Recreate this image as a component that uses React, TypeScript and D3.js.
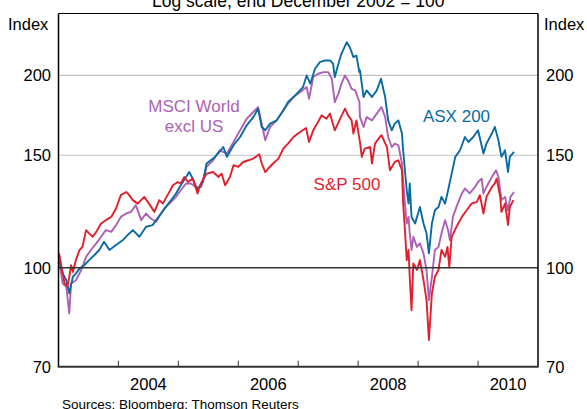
import React from "react";
import * as d3 from "d3";

// ---- data (decimal year, index value; end Dec 2002 = 100) ----
const asx200: [number, number][] = [
  [2003.01, 102.8], [2003.07, 98.0], [2003.13, 95.6], [2003.18, 91.2], [2003.24, 96.8], [2003.29, 98.0],
  [2003.35, 99.7], [2003.43, 100.9], [2003.51, 102.8], [2003.6, 104.7], [2003.68, 106.6], [2003.76, 109.8],
  [2003.85, 106.6], [2003.96, 108.5], [2004.07, 110.4], [2004.15, 112.4], [2004.24, 114.5], [2004.35, 111.8],
  [2004.46, 115.9], [2004.57, 116.6], [2004.63, 118.7], [2004.71, 121.6], [2004.79, 124.5], [2004.88, 127.6],
  [2004.96, 130.7], [2005.04, 134.6], [2005.13, 138.7], [2005.18, 141.2], [2005.24, 137.9], [2005.32, 132.2],
  [2005.41, 136.2], [2005.47, 145.6], [2005.61, 149.1], [2005.75, 154.5], [2005.81, 149.1], [2005.92, 155.5],
  [2006.03, 160.2], [2006.14, 167.1], [2006.25, 172.1], [2006.33, 177.4], [2006.39, 166.1], [2006.45, 164.1],
  [2006.53, 168.1], [2006.64, 170.1], [2006.75, 176.3], [2006.83, 181.7], [2006.92, 185.0], [2007.0, 188.3],
  [2007.08, 191.8], [2007.14, 200.0], [2007.2, 194.1], [2007.28, 204.9], [2007.36, 209.8], [2007.45, 211.1],
  [2007.53, 211.1], [2007.58, 208.6], [2007.61, 198.8], [2007.67, 208.6], [2007.72, 216.2], [2007.81, 225.5],
  [2007.86, 221.4], [2007.92, 213.6], [2007.97, 214.9], [2008.02, 202.4], [2008.03, 203.6], [2008.09, 185.0],
  [2008.14, 189.5], [2008.23, 185.0], [2008.31, 189.5], [2008.38, 197.6], [2008.45, 185.0], [2008.5, 170.1],
  [2008.56, 164.1], [2008.61, 168.1], [2008.67, 170.1], [2008.73, 162.2], [2008.75, 152.7], [2008.78, 142.1],
  [2008.81, 132.2], [2008.84, 126.0], [2008.86, 135.5], [2008.89, 120.1], [2008.95, 117.3], [2009.03, 124.5],
  [2009.09, 117.3], [2009.14, 113.2], [2009.18, 105.3], [2009.23, 117.3], [2009.28, 123.0], [2009.34, 124.5],
  [2009.39, 129.1], [2009.45, 126.0], [2009.5, 132.2], [2009.56, 140.4], [2009.62, 149.1], [2009.7, 152.7],
  [2009.78, 160.2], [2009.84, 157.3], [2009.92, 160.2], [2010.0, 164.1], [2010.09, 150.9], [2010.14, 156.4],
  [2010.23, 162.2], [2010.28, 166.1], [2010.34, 158.3], [2010.39, 149.1], [2010.45, 152.7], [2010.5, 141.2],
  [2010.53, 149.1], [2010.6, 151.8],
];

const msciWorldExUS: [number, number][] = [
  [2003.01, 102.8], [2003.07, 94.5], [2003.13, 93.4], [2003.18, 84.8], [2003.21, 94.5], [2003.29, 95.6],
  [2003.38, 99.2], [2003.46, 104.0], [2003.54, 106.6], [2003.63, 109.2], [2003.71, 111.8], [2003.79, 114.5],
  [2003.88, 113.8], [2003.96, 116.6], [2004.04, 120.1], [2004.13, 121.6], [2004.21, 122.3], [2004.29, 125.3],
  [2004.38, 118.7], [2004.46, 121.6], [2004.54, 119.4], [2004.63, 118.0], [2004.71, 121.6], [2004.79, 124.5],
  [2004.88, 126.8], [2004.96, 129.1], [2005.04, 132.2], [2005.13, 135.5], [2005.21, 135.5], [2005.29, 133.8],
  [2005.38, 133.8], [2005.47, 143.8], [2005.58, 147.3], [2005.69, 152.7], [2005.81, 150.9], [2005.92, 157.3],
  [2006.03, 164.1], [2006.14, 171.1], [2006.25, 175.3], [2006.33, 178.4], [2006.39, 168.1], [2006.45, 158.3],
  [2006.53, 166.1], [2006.64, 170.1], [2006.75, 176.3], [2006.83, 180.6], [2006.92, 185.0], [2007.03, 188.3],
  [2007.14, 191.8], [2007.18, 183.9], [2007.25, 198.8], [2007.33, 201.2], [2007.42, 202.4], [2007.5, 202.4],
  [2007.56, 197.6], [2007.61, 181.7], [2007.67, 187.3], [2007.72, 194.1], [2007.78, 200.0], [2007.83, 196.4],
  [2007.89, 190.6], [2007.95, 189.5], [2008.02, 181.7], [2008.03, 172.1], [2008.09, 166.1], [2008.14, 172.1],
  [2008.23, 170.1], [2008.31, 174.3], [2008.39, 178.4], [2008.45, 172.1], [2008.5, 160.2], [2008.56, 154.5],
  [2008.61, 156.4], [2008.67, 155.5], [2008.73, 145.6], [2008.75, 137.1], [2008.78, 126.0], [2008.81, 117.3],
  [2008.84, 120.1], [2008.86, 113.2], [2008.89, 106.6], [2008.92, 111.8], [2008.98, 107.8], [2009.03, 109.2],
  [2009.09, 105.3], [2009.14, 99.2], [2009.18, 89.0], [2009.23, 96.8], [2009.28, 106.6], [2009.34, 107.8],
  [2009.39, 113.2], [2009.45, 118.7], [2009.5, 114.5], [2009.53, 110.4], [2009.58, 120.1], [2009.64, 124.5],
  [2009.73, 130.7], [2009.78, 133.1], [2009.86, 130.7], [2009.95, 133.8], [2010.0, 136.2], [2010.06, 137.9],
  [2010.09, 130.7], [2010.14, 133.8], [2010.23, 138.7], [2010.3, 142.1], [2010.34, 138.7], [2010.39, 127.6],
  [2010.45, 129.1], [2010.5, 123.0], [2010.54, 129.1], [2010.6, 131.4],
];

const sp500: [number, number][] = [
  [2003.01, 105.3], [2003.04, 101.7], [2003.1, 94.6], [2003.15, 93.4], [2003.18, 96.8], [2003.21, 100.9],
  [2003.24, 98.5], [2003.29, 102.8], [2003.35, 106.6], [2003.4, 107.8], [2003.46, 114.5], [2003.51, 113.2],
  [2003.57, 111.8], [2003.63, 113.8], [2003.71, 117.3], [2003.79, 118.7], [2003.88, 120.1], [2003.96, 123.8],
  [2004.04, 129.9], [2004.13, 131.4], [2004.18, 129.9], [2004.24, 127.6], [2004.32, 126.0], [2004.43, 129.1],
  [2004.51, 126.0], [2004.6, 122.3], [2004.68, 127.6], [2004.74, 126.0], [2004.82, 129.9], [2004.91, 134.6],
  [2004.99, 136.2], [2005.04, 135.5], [2005.1, 138.7], [2005.16, 136.2], [2005.24, 137.9], [2005.32, 130.7],
  [2005.36, 134.6], [2005.47, 140.4], [2005.58, 141.2], [2005.67, 138.7], [2005.72, 140.4], [2005.78, 134.6],
  [2005.86, 138.7], [2005.92, 144.7], [2006.0, 143.8], [2006.08, 146.4], [2006.17, 147.3], [2006.25, 148.2],
  [2006.35, 150.5], [2006.39, 145.6], [2006.45, 141.2], [2006.5, 143.0], [2006.58, 145.6], [2006.67, 148.2],
  [2006.75, 153.6], [2006.83, 156.4], [2006.92, 160.2], [2007.03, 163.1], [2007.13, 165.5], [2007.18, 157.3],
  [2007.25, 164.1], [2007.33, 169.1], [2007.39, 173.2], [2007.47, 171.1], [2007.53, 174.3], [2007.56, 170.1],
  [2007.61, 164.1], [2007.7, 171.1], [2007.78, 177.4], [2007.83, 173.2], [2007.89, 170.1], [2007.92, 162.2],
  [2007.97, 170.1], [2008.02, 159.3], [2008.03, 157.3], [2008.06, 149.1], [2008.11, 153.6], [2008.2, 154.5],
  [2008.23, 145.6], [2008.28, 156.4], [2008.36, 160.2], [2008.39, 161.2], [2008.48, 154.5], [2008.53, 142.1],
  [2008.61, 146.4], [2008.67, 147.3], [2008.73, 142.1], [2008.75, 126.0], [2008.78, 114.5], [2008.81, 102.8],
  [2008.84, 106.6], [2008.86, 96.8], [2008.89, 85.8], [2008.92, 101.6], [2008.98, 99.2], [2009.03, 102.8],
  [2009.09, 95.6], [2009.14, 89.0], [2009.18, 77.1], [2009.23, 91.2], [2009.28, 96.8], [2009.34, 99.2],
  [2009.39, 106.6], [2009.45, 104.0], [2009.49, 107.8], [2009.52, 100.1], [2009.56, 111.8], [2009.64, 115.9],
  [2009.73, 120.1], [2009.81, 123.0], [2009.89, 126.0], [2009.98, 126.8], [2010.03, 129.9], [2010.09, 121.6],
  [2010.14, 129.1], [2010.23, 133.8], [2010.28, 135.5], [2010.31, 137.9], [2010.37, 129.1], [2010.39, 122.3],
  [2010.45, 126.0], [2010.5, 116.6], [2010.53, 124.5], [2010.59, 127.6],
];

const yTicks = [70, 100, 150, 200];
const gridLight = [150, 200];
const xYearTicks = [2004, 2005, 2006, 2007, 2008, 2009, 2010];
const xLabels = [2004, 2006, 2008, 2010];

const title = "Log scale, end December 2002 = 100";
const sourceNote = "Sources: Bloomberg; Thomson Reuters";

const COLORS = { asx: "#0a6aa3", msci: "#ac62b4", sp: "#e21f2d" };

const W = 587;
const H = 409;
const M = { left: 58.5, right: 538, top: 13.5, bottom: 366.7 };

export default function App() {
  const x = d3.scaleLinear().domain([2003, 2011]).range([M.left, M.right]);
  const y = d3.scaleLog().domain([70, 250]).range([M.bottom, M.top]);
  const line = d3
    .line<[number, number]>()
    .x((d) => x(d[0]))
    .y((d) => y(d[1]));

  const font = "'Liberation Sans', Arial, Helvetica, sans-serif";
  const fs = 16.5;

  return (
    <svg
      width={W}
      height={H}
      style={{ position: "absolute", left: 0, top: 0, background: "#fff" }}
      fontFamily={font}
    >
      <rect x={0} y={0} width={W} height={H} fill="#fff" />
      {/* title (cropped at top) */}
      <text x={(M.left + M.right) / 2} y={6.5} textAnchor="middle" fontSize={17.5} fill="#000">
        {title}
      </text>
      <text x={8} y={30} fontSize={fs} fill="#000">Index</text>
      <text x={544} y={30} fontSize={fs} fill="#000">Index</text>

      {/* gridlines */}
      {gridLight.map((v) => (
        <line key={v} x1={M.left} x2={M.right} y1={y(v)} y2={y(v)} stroke="#c4c4c4" strokeWidth={1.2} />
      ))}

      {/* series */}
      <path d={line(msciWorldExUS) || ""} fill="none" stroke={COLORS.msci} strokeWidth={1.9} strokeLinejoin="round" />
      <path d={line(asx200) || ""} fill="none" stroke={COLORS.asx} strokeWidth={1.9} strokeLinejoin="round" />
      <path d={line(sp500) || ""} fill="none" stroke={COLORS.sp} strokeWidth={1.9} strokeLinejoin="round" />

      {/* 100 line */}
      <line x1={M.left} x2={M.right} y1={y(100)} y2={y(100)} stroke="#333" strokeWidth={1.4} />

      {/* frame */}
      <line x1={M.left} x2={M.right} y1={M.top} y2={M.top} stroke="#000" strokeWidth={1} />
      <line x1={M.left} x2={M.left} y1={M.top} y2={M.bottom} stroke="#000" strokeWidth={1.5} />
      <line x1={M.right} x2={M.right} y1={M.top} y2={M.bottom} stroke="#000" strokeWidth={1.5} />
      {xYearTicks.map((t) => (
        <line key={t} x1={x(t)} x2={x(t)} y1={M.bottom} y2={M.bottom - 6} stroke="#555" strokeWidth={1.2} />
      ))}
      <line x1={M.left - 0.75} x2={M.right + 0.75} y1={M.bottom} y2={M.bottom} stroke="#333" strokeWidth={2} />

      {/* y labels */}
      {yTicks.map((v) => (
        <g key={v}>
          <text x={51} y={y(v) + 6} textAnchor="end" fontSize={fs} fill="#000">{v}</text>
          <text x={546} y={y(v) + 6} textAnchor="start" fontSize={fs} fill="#000">{v}</text>
        </g>
      ))}

      {/* x labels */}
      {xLabels.map((yr) => (
        <text key={yr} x={x(yr + 0.5)} y={389.5} textAnchor="middle" fontSize={fs} fill="#000">{yr}</text>
      ))}

      {/* series labels */}
      <text x={194} y={111.5} textAnchor="middle" fontSize={17} fill={COLORS.msci}>MSCI World</text>
      <text x={194} y={131.5} textAnchor="middle" fontSize={17} fill={COLORS.msci}>excl US</text>
      <text x={456.5} y={122} textAnchor="middle" fontSize={17} fill={COLORS.asx}>ASX 200</text>
      <text x={347} y={190} textAnchor="middle" fontSize={17} fill={COLORS.sp}>S&amp;P 500</text>

      <text x={62} y={408.5} fontSize={13.5} fill="#000">{sourceNote}</text>
    </svg>
  );
}
